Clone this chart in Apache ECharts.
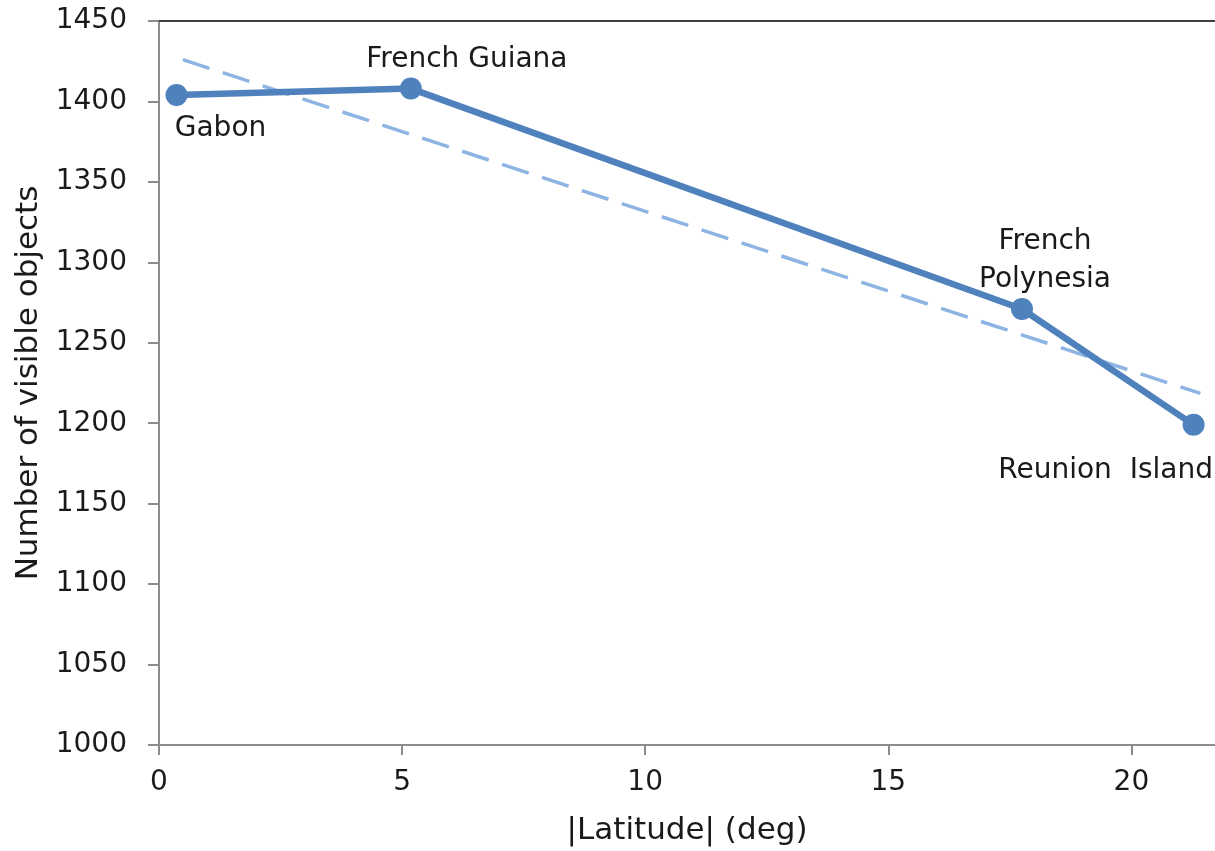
<!DOCTYPE html>
<html>
<head>
<meta charset="utf-8">
<script src="https://cdn.jsdelivr.net/npm/echarts@6/dist/echarts.min.js"></script>
<style>
	html, body { margin: 0; padding: 0; background: #fff; }
	#chart { width: 1215px; height: 851px; }
</style>
</head>
<body>
<div id="chart"></div>
<script>

// values
var sites = ['Gabon', 'French Guiana', 'French\nPolynesia', 'Reunion  Island'];
var latitudes = [0.36, 5.18, 17.75, 21.28];
var visibleObjects = [1404, 1408, 1271, 1199];

// linear trendline end points
var trendLatitudes = [0.49, 21.42];
var trendObjects = [1426, 1218.5];

var xTicks = [0, 5, 10, 15, 20];

var FONT = 'DejaVu Sans';
var TEXT_COLOR = '#1a1a1a';
var FONT_SIZE = 28;
var NAME_SIZE = 31;

// label offsets from each marker centre
var labelOffsets = [[44, 34], [56, -29], [23, -48], [-88, 46]];

var pointData = latitudes.map(function(lat, i){
	return {
		value: [lat, visibleObjects[i]],
		label: {
			show: true,
			formatter: sites[i],
			position: 'inside',
			offset: labelOffsets[i]
		}
	};
});

var trendData = trendLatitudes.map(function(lat, i){
	return [lat, trendObjects[i]];
});

var chart = echarts.init(document.getElementById('chart'), null, {renderer: 'canvas'});

var option = {
	animation: false,
	backgroundColor: '#ffffff',
	grid: {
		left: 159,
		right: 0,
		top: 21,
		bottom: 105,
		containLabel: false
	},
	xAxis: [{
		type: 'value',
		min: 0,
		max: 21.72,
		interval: 5,
		name: '|Latitude| (deg)',
		nameLocation: 'middle',
		nameGap: 70,
		nameTextStyle: { fontFamily: FONT, fontSize: NAME_SIZE, color: TEXT_COLOR },
		splitLine: { show: false },
		axisLine: { show: true, lineStyle: { color: '#8c8c8c', width: 2 } },
		axisTick: { show: true, length: 10, inside: false, customValues: xTicks, lineStyle: { color: '#8c8c8c', width: 2 } },
		axisLabel: { customValues: xTicks, margin: 24, fontFamily: FONT, fontSize: FONT_SIZE, color: TEXT_COLOR }
	}, {
		// dark border along the top of the plot
		type: 'value',
		position: 'top',
		min: 0,
		max: 21.72,
		axisLine: { show: true, lineStyle: { color: '#404040', width: 2 } },
		axisTick: { show: false },
		axisLabel: { show: false },
		splitLine: { show: false }
	}],
	yAxis: {
		type: 'value',
		min: 1000,
		max: 1450,
		interval: 50,
		name: 'Number of visible objects',
		nameLocation: 'middle',
		nameGap: 112,
		nameTextStyle: { fontFamily: FONT, fontSize: NAME_SIZE, color: TEXT_COLOR },
		splitLine: { show: false },
		axisLine: { show: true, lineStyle: { color: '#8c8c8c', width: 2 } },
		axisTick: { show: true, length: 11, inside: false, lineStyle: { color: '#8c8c8c', width: 2 } },
		axisLabel: {
			margin: 32,
			fontFamily: FONT,
			fontSize: FONT_SIZE,
			color: TEXT_COLOR,
			formatter: function(v){ return String(v); }
		}
	},
	series: [{
		name: 'Trend',
		type: 'line',
		data: trendData,
		symbol: 'none',
		silent: true,
		z: 1,
		lineStyle: { color: '#8db4e2', width: 3.5, type: [28, 14] }
	}, {
		name: 'Sites',
		type: 'line',
		data: pointData,
		symbol: 'circle',
		symbolSize: 22,
		z: 2,
		itemStyle: { color: '#4f81bd' },
		lineStyle: { color: '#4f81bd', width: 6.5 },
		label: {
			fontFamily: FONT,
			fontSize: FONT_SIZE,
			color: TEXT_COLOR,
			align: 'center',
			verticalAlign: 'middle',
			lineHeight: 38
		}
	}]
};

chart.setOption(option);

</script>
</body>
</html>
